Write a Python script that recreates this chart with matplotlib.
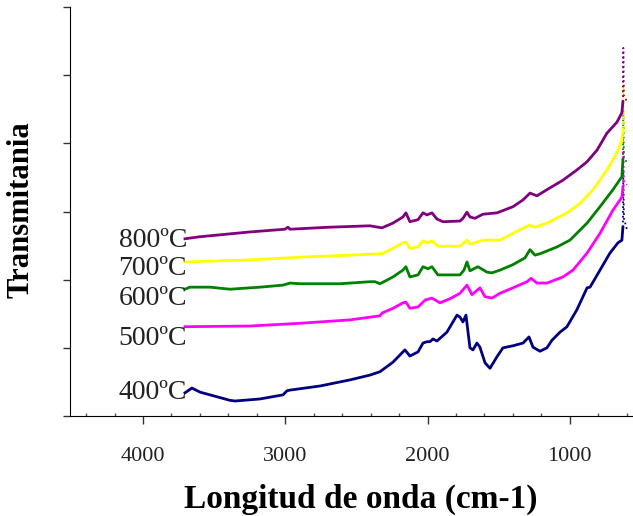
import matplotlib
matplotlib.use("Agg")
import matplotlib.pyplot as plt
from matplotlib.ticker import MultipleLocator

# Espectros FTIR (lectura aproximada de la figura)
wn_400 = [3705, 3656, 3599, 3389, 3353, 3178, 3016, 2988, 2967, 2756, 2545, 2405, 2334, 2243,
          2159, 2124, 2067, 2032, 2004, 1983, 1962, 1934, 1864, 1793, 1772, 1751, 1730, 1702,
          1681, 1653, 1632, 1596, 1561, 1512, 1470, 1400, 1329, 1287, 1259, 1210, 1161, 1126,
          1069, 1020, 950, 879, 858, 788, 718, 662, 634, 627]
t_400 = [3.4, 4.1, 3.5, 2.3, 2.2, 2.5, 3.1, 3.7, 3.8, 4.4, 5.3, 6.0, 6.5, 7.9,
         9.7, 8.8, 9.4, 10.7, 10.9, 10.9, 11.3, 11.0, 12.3, 14.8, 14.5, 13.8, 14.8, 10.0,
         9.7, 10.7, 10.1, 7.8, 7.0, 8.7, 10.0, 10.3, 10.7, 11.6, 10.1, 9.5, 10.0, 11.1,
         12.3, 13.1, 15.6, 18.8, 18.9, 21.4, 23.9, 25.4, 25.8, 27.7]

wn_500 = [3705, 3248, 2897, 2545, 2334, 2320, 2243, 2173, 2152, 2124, 2067, 2018, 1969, 1913,
          1843, 1772, 1723, 1688, 1632, 1596, 1547, 1491, 1400, 1301, 1273, 1231, 1161, 1048,
          978, 879, 788, 697, 634, 627]
t_500 = [13.1, 13.2, 13.6, 14.1, 14.7, 15.1, 15.8, 16.6, 16.7, 15.8, 16.0, 17.0, 17.3, 16.6,
         17.2, 18.0, 19.2, 17.8, 18.8, 17.5, 17.3, 18.0, 18.8, 19.7, 20.2, 19.5, 19.5, 20.4,
         21.4, 23.9, 26.8, 30.2, 32.1, 33.6]

wn_600 = [3705, 3670, 3529, 3389, 3178, 3016, 2967, 2897, 2615, 2405, 2369, 2334, 2243, 2173,
          2152, 2124, 2067, 2032, 1997, 1969, 1927, 1772, 1744, 1723, 1702, 1646, 1582, 1547,
          1491, 1400, 1315, 1280, 1245, 1210, 1090, 999, 879, 788, 697, 634, 627]
t_600 = [18.6, 18.9, 18.9, 18.6, 18.9, 19.2, 19.5, 19.4, 19.4, 19.7, 19.7, 19.4, 20.4, 21.4,
         21.9, 20.4, 20.7, 21.9, 21.6, 21.9, 20.7, 20.7, 21.4, 22.6, 21.3, 21.9, 21.1, 21.0,
         21.4, 22.2, 23.2, 24.4, 23.6, 23.8, 24.8, 25.8, 28.3, 30.7, 33.2, 35.1, 37.6]

wn_700 = [3705, 3248, 2897, 2545, 2320, 2243, 2173, 2152, 2124, 2067, 2032, 2004, 1969, 1927,
          1772, 1723, 1702, 1611, 1491, 1400, 1287, 1245, 1161, 1020, 928, 837, 739, 669, 634, 627]
t_700 = [22.6, 22.9, 23.3, 23.6, 23.8, 24.6, 25.4, 25.5, 24.6, 24.8, 25.7, 25.4, 25.7, 24.9,
         24.9, 25.8, 25.2, 25.8, 25.8, 26.8, 28.0, 27.7, 28.3, 29.8, 31.2, 33.2, 36.1, 38.6, 40.5, 42.0]

wn_800 = [3705, 3599, 3248, 3002, 2981, 2967, 2686, 2405, 2320, 2243, 2173, 2152, 2124, 2067,
          2032, 2004, 1969, 1934, 1892, 1772, 1751, 1723, 1702, 1667, 1611, 1512, 1400, 1329,
          1280, 1231, 1161, 1048, 950, 879, 809, 739, 669, 634, 627]
t_800 = [26.0, 26.3, 27.0, 27.4, 27.7, 27.4, 27.7, 27.9, 27.6, 28.3, 29.2, 29.8, 28.5, 28.8,
         29.8, 29.5, 29.8, 28.9, 28.5, 28.6, 29.0, 29.9, 29.2, 29.0, 29.6, 29.8, 30.7, 31.7,
         32.7, 32.3, 33.2, 34.6, 36.1, 37.3, 39.0, 41.5, 43.1, 44.5, 46.1]

# final ruidoso de cada espectro
wn_tail = [627, 624, 620, 598]
tail_400 = [27.7, 36.1, 29.0, 27.3]
tail_500 = [33.6, 39.0, 34.5, 33.9]
tail_600 = [37.6, 44.9, 38.0, 37.1]
tail_700 = [42.0, 48.6, 42.5, 41.5]
tail_800 = [46.1, 54.0, 47.0, 46.1]

etiquetas = ["400ºC", "500ºC", "600ºC", "700ºC", "800ºC"]
colores = ["#000080", "#FF00FF", "#008000", "#FFFF00", "#800080"]

series = [(wn_400, t_400, tail_400), (wn_500, t_500, tail_500), (wn_600, t_600, tail_600),
          (wn_700, t_700, tail_700), (wn_800, t_800, tail_800)]
y_etiqueta = [3.5, 11.4, 17.3, 21.6, 25.7]

plt.rcParams['font.family'] = ['Liberation Serif', 'DejaVu Serif']

fig = plt.figure(figsize=(6.33, 5.16), dpi=100)
ax = fig.add_axes([70 / 633, 100 / 516, 563 / 633, 409 / 516])

for (wn, t, tail), col, lab, ye in zip(series, colores, etiquetas, y_etiqueta):
    ax.plot(wn, t, color=col, lw=2.0, solid_joinstyle='round')
    ax.plot(wn_tail, tail, color=col, lw=1.3, ls=':')
    ax.text(3690, ye, lab, ha='right', va='center', fontsize=20, color='#222222')

ax.set_xlim(4513, 556)
ax.set_ylim(0, 60)
ax.set_xticks([4000, 3000, 2000, 1000])
ax.xaxis.set_minor_locator(MultipleLocator(200))
ax.set_yticks(range(0, 61, 10))
ax.set_yticklabels([])
ax.tick_params(axis='x', length=6, width=1, labelsize=16, pad=16, colors='#333333', labelcolor='#222222')
ax.tick_params(axis='x', which='minor', direction='in', length=2, width=1, colors='#555555')
ax.tick_params(axis='y', length=5, width=1, colors='#333333')
ax.spines['top'].set_visible(False)
ax.spines['right'].set_visible(False)
ax.set_xlabel("Longitud de onda (cm-1)", fontsize=24, fontweight='bold')
ax.xaxis.set_label_coords(0.517, -0.165)
ax.set_ylabel("Transmitania", fontsize=22, fontweight='bold')
ax.yaxis.set_label_coords(-0.062, 0.505)

fig.savefig("out.png", dpi=100)
